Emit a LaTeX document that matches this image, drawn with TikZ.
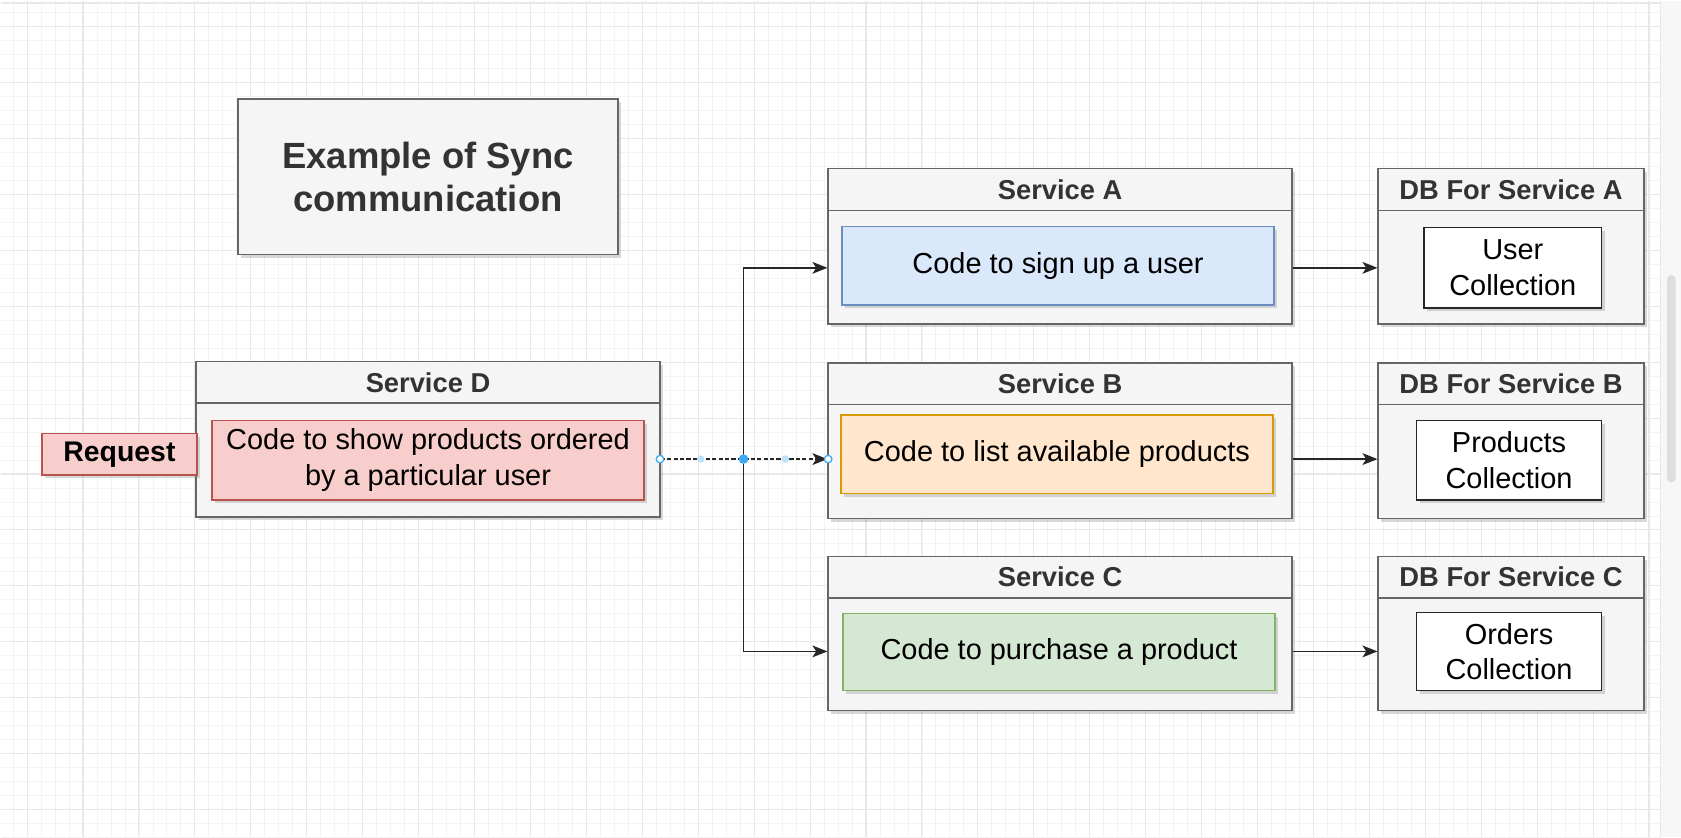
\documentclass[tikz,border=0pt]{standalone}
\usepackage{fontspec}
\setmainfont{Liberation Sans}
\usepackage{tikz}
\usetikzlibrary{arrows.meta, positioning, shadows, calc}
\definecolor{lanegray}{HTML}{F5F5F5}
\definecolor{lanedraw}{HTML}{666666}
\definecolor{labeltext}{HTML}{333333}
\definecolor{redfill}{HTML}{F8CECC}
\definecolor{reddraw}{HTML}{B85450}
\definecolor{bluefill}{HTML}{DAE8FC}
\definecolor{bluedraw}{HTML}{6C8EBF}
\definecolor{orangefill}{HTML}{FFE6CC}
\definecolor{orangedraw}{HTML}{D79B00}
\definecolor{greenfill}{HTML}{D5E8D4}
\definecolor{greendraw}{HTML}{82B366}
\definecolor{gridminor}{HTML}{F3F3F3}
\definecolor{gridmajor}{HTML}{E8E8E8}
\definecolor{handleblue}{HTML}{3FA9F5}

\begin{document}
\begin{tikzpicture}[
    x=1pt, y=-1pt,
    box/.style={
        rectangle, inner sep=0pt, line width=1.4pt, align=center,
        drop shadow={opacity=0.3, shadow xshift=3pt, shadow yshift=-3pt}
    },
    lane/.style={box, draw=lanedraw, fill=lanegray},
    lanehead/.style={font=\fontsize{25.5}{30}\selectfont\bfseries, text=labeltext, inner sep=0pt},
    headrule/.style={draw=lanedraw, line width=1.4pt},
    code/.style={box, font=\fontsize{27}{33}\selectfont, text=black},
    store/.style={code, draw=black!85, fill=white},
    flow/.style={-{Stealth[length=14pt, width=11pt, inset=3.5pt]}, line width=1.3pt, draw=black!85},
    handle/.style={draw=handleblue, line width=1.2pt}
]

% Canvas and grid
\fill[white] (0,0) rectangle (1568,781);
\foreach \gx in {0,...,118} \draw[gridminor, line width=0.8pt] ({11.25+13.05*\gx},0) -- ({11.25+13.05*\gx},781);
\foreach \gy in {0,...,59} \draw[gridminor, line width=0.8pt] (0,{11.25+13.05*\gy}) -- (1549,{11.25+13.05*\gy});
\foreach \gx in {0,...,29} \draw[gridmajor, line width=1pt] ({24.3+52.2*\gx},0) -- ({24.3+52.2*\gx},781);
\foreach \gy in {0,...,14} \draw[gridmajor, line width=1pt] (0,{24.3+52.2*\gy}) -- (1549,{24.3+52.2*\gy});
\draw[gridmajor, line width=2pt] (0,2) -- (1549,2);
\fill[black!3] (1549,0) rectangle (1568,781);
\draw[gridmajor, line width=1pt] (1549,0) -- (1549,781);
\fill[black!13, rounded corners=4pt] (1555,256) rectangle (1563,450);

% Title
\node[lane, minimum width=355pt, minimum height=145pt,
      font=\fontsize{34}{40}\selectfont\bfseries, text=labeltext] (title) at (398.5,164.5)
      {Example of Sync\\communication};

% Lanes
\node[lane, minimum width=433pt, minimum height=145pt] (svcD) at (398.5,409.5) {};
\node[lane, minimum width=433pt, minimum height=145pt] (svcA) at (988.5,229.5) {};
\node[lane, minimum width=433pt, minimum height=145pt, below=35pt of svcA] (svcB) {};
\node[lane, minimum width=433pt, minimum height=144pt, below=34pt of svcB] (svcC) {};
\node[lane, minimum width=248pt, minimum height=145pt, right=79pt of svcA] (dbA) {};
\node[lane, minimum width=248pt, minimum height=145pt, right=79pt of svcB] (dbB) {};
\node[lane, minimum width=248pt, minimum height=144pt, right=79pt of svcC] (dbC) {};

\foreach \lane/\head in {svcD/Service D, svcA/Service A, svcB/Service B, svcC/Service C,
                         dbA/DB For Service A, dbB/DB For Service B, dbC/DB For Service C} {
    \draw[headrule] ([yshift=-39.5pt]\lane.north west) -- ([yshift=-39.5pt]\lane.north east);
    \node[lanehead] (\lane-head) at ([yshift=-20pt]\lane.north) {\head};
}

% Code blocks
\node[code, fill=redfill, draw=reddraw, minimum width=403pt, minimum height=74pt] (codeD) at (398.5,429)
      {Code to show products ordered\\by a particular user};
\node[code, fill=redfill, draw=reddraw, minimum width=145pt, minimum height=39pt,
      font=\fontsize{26.5}{30}\selectfont\bfseries] (request) at (110.5,423.5) {Request};
\node[code, fill=bluefill, draw=bluedraw, minimum width=403pt, minimum height=73pt] (codeA) at (986.5,247.5)
      {Code to sign up a user};
\node[code, fill=orangefill, draw=orangedraw, minimum width=403pt, minimum height=73pt] (codeB) at (985.5,423.5)
      {Code to list available products};
\node[code, fill=greenfill, draw=greendraw, minimum width=403pt, minimum height=72pt] (codeC) at (987.5,608)
      {Code to purchase a product};

% Collections
\node[store, minimum width=166pt, minimum height=75pt] (userColl) at (1411,249.5) {User\\Collection};
\node[store, minimum width=173pt, minimum height=74pt] (prodColl) at (1407.5,429) {Products\\Collection};
\node[store, minimum width=173pt, minimum height=73pt] (ordColl) at (1407.5,607.5) {Orders\\Collection};

% Connectors
\coordinate (split) at (693,428);
\draw[flow, dashed, dash pattern=on 4pt off 2pt] (svcD.east |- split) -- (svcB.west |- split);
\draw[flow] (split) |- (svcA.west |- userColl);
\draw[flow] (split) |- (svcC.west |- ordColl);
\draw[flow] (svcA.east |- userColl) -- (dbA.west |- userColl);
\draw[flow] (svcB.east |- split) -- (dbB.west |- split);
\draw[flow] (svcC.east |- ordColl) -- (dbC.west |- ordColl);

% Selection handles
\foreach \hx in {653,732} \fill[handleblue!35] (\hx,428) circle (3.5pt);
\foreach \hx in {615,772} \draw[handle, fill=white] (\hx,428) circle (3.5pt);
\fill[handleblue] (693,428) circle (4.5pt);

\end{tikzpicture}
\end{document}
